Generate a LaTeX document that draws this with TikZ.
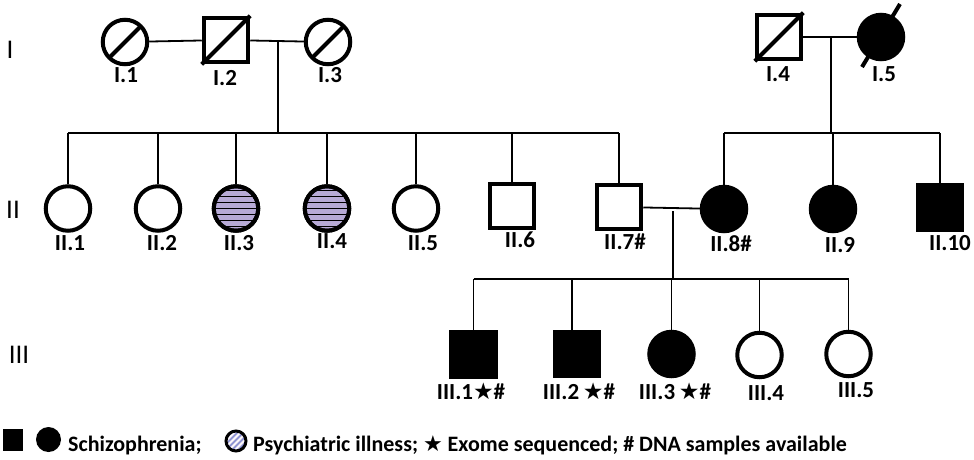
\documentclass[tikz,border=0pt]{standalone}
\usepackage{fontspec}
\setmainfont{Carlito}
\newfontfamily\symfont{DejaVu Sans}
\usetikzlibrary{calc}
\definecolor{lav}{RGB}{183,170,214}
\definecolor{stripeblue}{RGB}{110,140,215}
\begin{document}
\begin{tikzpicture}[x=1pt,y=-1pt,
  sym/.style={draw=black, line width=4pt, fill=white, inner sep=0pt},
  male/.style={sym, rectangle, minimum size=44.5pt},
  female/.style={sym, circle, minimum size=44.5pt},
  aff/.style={fill=black},
  psy/.style={fill=lav},
  link/.style={line width=1.8pt},
  slash/.style={line width=4pt},
  hatch/.style={line width=1.6pt},
  lab/.style={font=\fontsize{23}{23}\selectfont\bfseries, inner sep=0pt},
  gen/.style={font=\fontsize{27}{27}\selectfont, inner sep=0pt},
  leg/.style={font=\fontsize{22}{22}\selectfont\bfseries, inner sep=0pt, anchor=base west}]
\useasboundingbox[fill=white] (0,0) rectangle (974,459);

% generation numerals
\node[gen] (gI) at (10,50) {I};
\node[gen] (gII) at (13,210) {II};
\node[gen] (gIII) at (19,355) {III};

% generation I
\node[female] (I1) at (125,42) {};
\node[male] (I2) at (226,40) {};
\node[female] (I3) at (328,42) {};
\node[male] (I4) at (779,37) {};
\node[female,aff] (I5) at (881,37) {};
\draw[slash] ($(I1)+(-16,16)$) -- ($(I1)+(16,-16)$);
\draw[slash] ($(I3)+(-16,16)$) -- ($(I3)+(16,-16)$);
\draw[slash] (I2.south west) -- (I2.north east);
\draw[slash] (I4.south west) -- (I4.north east);
\draw[slash] ($(I5)+(-19,30)$) -- ($(I5)+(19,-33)$);

\draw[link] (I1) -- (I2);
\draw[link] (I2) -- (I3);
\draw[link] (I4) -- (I5);
\coordinate (m1) at (278,41);
\coordinate (m2) at (831,38);
\coordinate (sL) at (278,133);
\coordinate (sR) at (831,133);
\draw[link] (m1) -- (sL);
\draw[link] (m2) -- (sR);

% generation II
\node[female] (II1) at (68,208.5) {};
\node[female] (II2) at (158,208.5) {};
\node[female,psy] (II3) at (236,208.5) {};
\node[female,psy] (II4) at (327,208.5) {};
\node[female] (II5) at (416,208.5) {};
\node[male] (II6) at (512,206) {};
\node[male] (II7) at (619,207) {};
\node[female,aff] (II8) at (724,209) {};
\node[female,aff] (II9) at (833,209) {};
\node[male,aff] (II10) at (940,207.5) {};

\foreach \c in {II3,II4}{
  \begin{scope}
    \clip (\c) circle[radius=22pt];
    \foreach \dy in {-18,-12,...,18}
      \draw[hatch] ($(\c)+(-30,\dy)$) -- ++(60,0);
  \end{scope}
  \draw[line width=4pt] (\c) circle[radius=22.25pt];
}

\draw[link] (II1.north |- sL) -- (II7.north |- sL);
\foreach \c in {II1,II2,II3,II4,II5,II6,II7}
  \draw[link] (\c.north) -- (\c.north |- sL);
\draw[link] (II8.north |- sR) -- (II10.north |- sR);
\foreach \c in {II8,II9,II10}
  \draw[link] (\c.north) -- (\c.north |- sR);

\draw[link] (II7) -- (II8);
\coordinate (m3) at (673,211);
\coordinate (sIII) at (673,279);
\draw[link] (m3) -- (sIII);

% generation III
\node[male,aff] (III1) at (473.5,354.5) {};
\node[male,aff] (III2) at (577,354) {};
\node[female,aff] (III3) at (671.5,354) {};
\node[female] (III4) at (759.5,355) {};
\node[female] (III5) at (848.5,354) {};
\coordinate (t2) at ($(III2.north)+(-5,0)$);
\draw[link] (III1.north |- sIII) -- (III5.north |- sIII);
\foreach \c in {III1,III3,III4,III5}
  \draw[link] (\c.north) -- (\c.north |- sIII);
\draw[link] (t2) -- (t2 |- sIII);

% labels
\node[lab] (lI1) at (126,75) {I.1};
\node[lab] (lI2) at (225,78) {I.2};
\node[lab] (lI3) at (330,75) {I.3};
\node[lab] (lI4) at (778,74) {I.4};
\node[lab] (lI5) at (884,74) {I.5};
\node[lab] (lII1) at (70,243) {II.1};
\node[lab] (lII2) at (162,243) {II.2};
\node[lab] (lII3) at (239,243) {II.3};
\node[lab] (lII4) at (332,241) {II.4};
\node[lab] (lII5) at (423,243) {II.5};
\node[lab] (lII6) at (520,240) {II.6};
\node[lab] (lII7) at (625,242) {II.7\#};
\node[lab] (lII8) at (731,244) {II.8\#};
\node[lab] (lII9) at (840,245) {II.9};
\node[lab] (lII10) at (950,243) {II.10};
\node[lab] (lIII1) at (471,391) {III.1{\symfont ★}\#};
\node[lab] (lIII2) at (579,391) {III.2\,{\symfont ★}\#};
\node[lab] (lIII3) at (675,391) {III.3\,{\symfont ★}\#};
\node[lab] (lIII4) at (766,393) {III.4};
\node[lab] (lIII5) at (856,390) {III.5};

% legend
\node[fill=black, minimum width=20pt, minimum height=22pt, inner sep=0pt] (lsq) at (13,440) {};
\node[fill=black, circle, minimum size=25pt, inner sep=0pt] (lci) at (48.5,439.5) {};
\node[leg] (lt1) at (68,451) {Schizophrenia;};
\node[circle, fill=lav, minimum size=20pt, inner sep=0pt] (lps) at (236,441) {};
\begin{scope}
  \clip (lps) circle[radius=10pt];
  \foreach \d in {-16,-10,...,16}
    \draw[white, line width=1.6pt] ($(lps)+(\d-12,12)$) -- ++(24,-24);
  \foreach \d in {-13,-7,...,13}
    \draw[stripeblue, line width=0.6pt] ($(lps)+(\d-12,12)$) -- ++(24,-24);
\end{scope}
\draw[line width=3pt] (lps) circle[radius=10pt];
\node[leg] (lt2) at (253,451) {Psychiatric illness; {\symfont ★} Exome sequenced; \# DNA samples available};
\end{tikzpicture}
\end{document}
